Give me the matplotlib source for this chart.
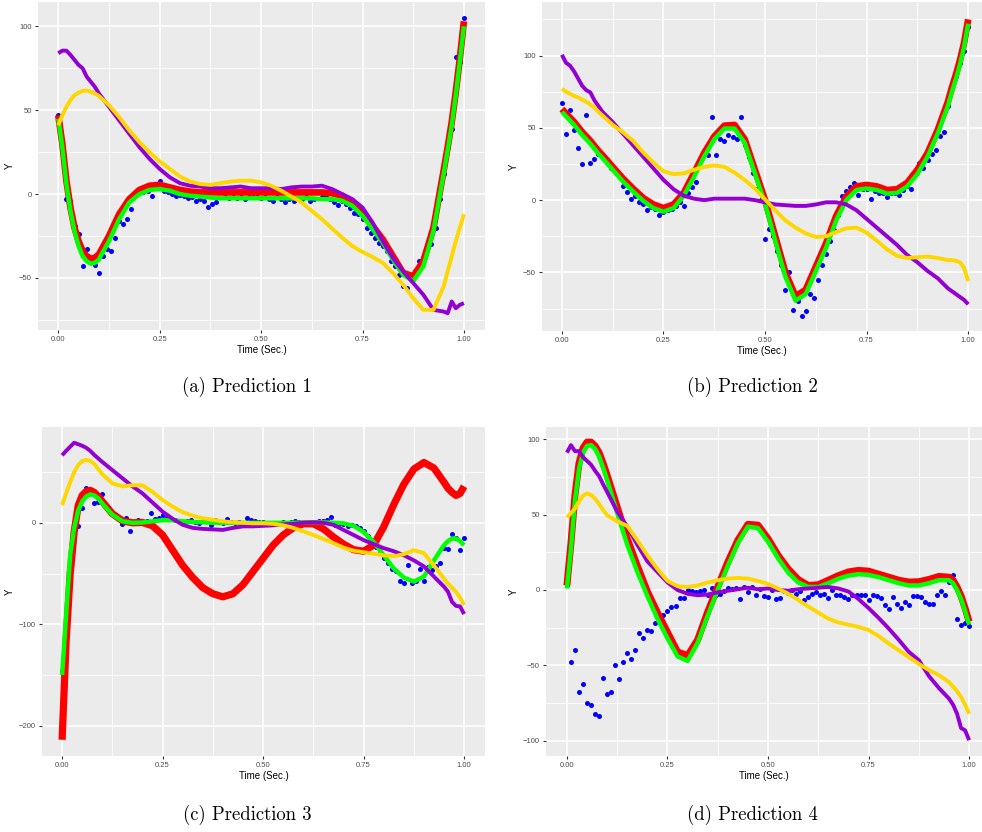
import numpy as np
import matplotlib
matplotlib.use("Agg")
import matplotlib.pyplot as plt
from matplotlib.ticker import FixedLocator

plt.rcParams['font.family'] = ['Liberation Sans', 'DejaVu Sans']

# time grid shared by the fitted curves (denser near the ends)
T = [0, .01, .02, .03, .04, .05, .06, .07, .08, .09,
     .1, .125, .15, .175, .2, .225, .25, .275, .3, .325,
     .35, .375, .4, .425, .45, .475, .5, .525, .55, .575,
     .6, .625, .65, .675, .7, .725, .75, .775, .8, .825,
     .85, .875, .9, .925, .95, .96, .97, .98, .99, 1.0]
# observations are sampled every 0.01 s
T_OBS = np.arange(101) / 100

# ---- prediction 1
a_obs = [47, 28, -3, -4, -19, -24, -43, -33, -40, -42,
         -47, -37, -33, -34, -26, -16, -18, -15, -9, 0.5,
         1.5, 1, 2, -1, 5, 8, 2, 1, 0, -1,
         -0.5, -1, -2.5, -2, -4, -3, -4, -7.5, -6, -4.5,
         3, -2, -2.5, -2, -2.5, -2, -3, -2, -2, -2,
         -2.5, -2, -3, -4, -2, -3, -5, -3, -4, -3,
         -3, -2, -4, -3, 1, -2, -2, -3, -5, -6.5,
         -4, -6, -8, -11, -12, -15, -20, -23, -26, -29,
         -31, -34, -40, -43, -48, -55, -56, -50, -46, -40,
         -38, -33, -30, -20.5, -3, 12, 28, 39, 82, 79,
         105]
a_red = [47, 30, 8, -8, -20, -28, -34, -37, -38.5, -38,
         -36, -25, -12, -3, 2.5, 5, 5.5, 4, 2.5, 1.5,
         1, 1, 1, 1, 1, 1, 1, 1, 1, 1,
         1, 1, 1, 0.5, -1, -5, -11, -19, -27, -37,
         -47, -49, -40, -20, 14, 28, 43, 61, 81, 103]
a_green = [45, 28, 6, -10, -22, -31, -37, -40, -41.5, -41,
           -39, -28, -15, -5, 0, 2.5, 3, 2, 0, -1,
           -1.5, -2, -2.5, -2.5, -2.5, -2.5, -2.5, -2.5, -2.5, -2.5,
           -2.5, -2.5, -3, -3, -4, -7, -13, -21, -29, -39,
           -48, -52, -43, -22, 12, 26, 41, 59, 79, 100]
a_purple = [84, 85.5, 85.5, 83, 80, 77, 75, 70, 67, 64,
            60, 52, 44, 36, 28, 21, 15, 10, 6.5, 5,
            4.5, 3.5, 3.5, 4, 4.5, 3.5, 3.5, 3.5, 3, 4,
            4.5, 4.5, 5, 3, 0, -3, -8, -17, -28, -38,
            -46, -53, -60, -69, -70, -71, -64, -68, -66, -65]
a_gold = [41, 47, 52, 56, 59, 60.5, 61.5, 61.7, 61, 60,
          58.5, 53, 46, 38, 31, 25, 19.5, 15, 10.5, 7.5,
          6, 5.5, 6.5, 7.5, 8, 8, 7, 5, 2, -1.5,
          -5, -10, -15, -20.5, -26, -31, -34.5, -37.5, -41, -47,
          -54, -62, -69, -69, -55, -46, -37, -28, -20, -12]

# ---- prediction 2
b_obs = [67, 46, 62.6, 48.7, 36, 25, 58.7, 26, 28.4, 32,
         29, 27, 22, 20, 17, 10, 5.5, 0.7, 3, -1,
         -3, -7, -5, -6, -10, -8, -7, -6, -4, -1,
         -4, 5, 9, 12.5, 28, 34, 31.4, 57.5, 31.4, 42.5,
         41, 45, 43.6, 42, 57.5, 38, 30, 18.7, 8, 0,
         -27, -20, -25, -35, -45, -62, -50, -76, -70, -80,
         -77, -65, -68, -55, -45, -37, -28, -20.5, -10, 3,
         6, 9, 12, 3.2, 8, 8, 1, 6, 5, 5,
         2.5, 5, 5, 3.5, 7, 10, 7.6, 18, 26, 22,
         28, 32, 35, 44, 47, 65, 80, 86, 95, 103,
         120]
b_red = [63, 60, 57, 54, 50.5, 47, 44, 41, 37.5, 34,
         31, 23, 15, 8, 1.5, -3, -5.5, -3, 5, 18.5,
         32.5, 44, 51.5, 52, 42, 21, 0, -25, -50, -66.5,
         -62, -46, -30, -11, 2.5, 9.5, 10.5, 9.5, 7, 7.5,
         12, 21, 32.5, 48.5, 68, 78, 87, 97, 109, 125]
b_green = [61, 58, 55, 52, 48.5, 45, 42, 39, 35.5, 32,
           29, 21, 13, 6, -0.5, -5.5, -8, -5.5, 3, 16,
           30, 42, 49.5, 49.5, 39.5, 18.5, -2.5, -28, -53, -69.5,
           -65, -49, -33, -14, 0, 7, 8, 7, 4.5, 5,
           9.5, 18, 30, 46, 65, 75, 84, 94, 106, 122]
b_purple = [100.5, 95, 93, 89, 84, 79, 76, 74.5, 69, 65,
            61, 54, 46, 38, 30, 22, 14, 7.5, 3, 1,
            0, 1, 1, 1, 1, 0, -1.5, -3, -3.5, -4,
            -4, -3, -1.5, -1.5, -3, -7, -13, -19, -25, -31,
            -38, -43, -49, -54, -61, -63, -65, -67, -69, -72]
b_gold = [77, 75, 73.5, 72, 71, 69.5, 68, 66, 64, 61,
          58.5, 52, 47, 41, 33, 26, 20, 18, 18.5, 21,
          23, 24, 23, 19, 14, 8, 0.5, -7, -14, -19,
          -23, -25.5, -25, -22, -19.5, -19, -22.5, -28, -34, -38.5,
          -40, -39.5, -39, -40, -41.5, -41.5, -42, -43, -47, -56]

# ---- prediction 3
c_obs = [-146, -100, -49, -13, -3, 15, 34, 30, 20, 21,
         28, 17, 12, 9, 6, -1, 5, -8, 1, 3,
         1, 2, 10, 4, 5, 8, 5, 4, 3, 2,
         1, 2, 3, 1, 0, 2, 2, -2, 3, 1,
         0, 4, 1, 0, 1, -1, 5, 3, 2, 1,
         1, 0, -1, 0, 0, 1, 0, 1, 2, 1,
         0, 0, 1, 1, 2, 2, 3, 6, -2, -1,
         -1, -3, -2, -3, -5, -8, -13, -18, -24, -30,
         -35, -40, -46, -48, -57, -59, -42, -59, -57, -46,
         -57, -44, -47, -43, -40, -25, -26, -11, -15, -27,
         -15]
c_red = [-214, -117, -51, -9, 17, 27, 31, 32, 30, 26,
         21, 9, 2, 0, 0.3, -3, -12, -27, -42, -54,
         -64, -70, -73, -70, -61, -48, -35, -22, -12, -5,
         -1, -1, -6, -14, -21, -26.5, -28, -22, -4, 18,
         38, 53, 59.5, 54, 40, 34, 30, 27, 29, 36]
c_green = [-150, -91, -32, -5, 12, 21, 26, 28, 27, 24,
           19, 8, 1.5, 0, 0.3, 1.5, 2.6, 2.5, 1.5, 0.8,
           0.5, 0, 0, 0, 0, 0, 0, 0, 0, 0,
           0.3, 0.5, 0.5, 0, -0.5, -3, -9, -19, -32, -45,
           -54, -58, -53, -37, -22, -18, -15.5, -15.5, -18, -22]
c_purple = [66.6, 71, 75, 79, 77.5, 76, 74, 71, 67, 63.5,
            60, 52, 44, 36, 29, 20, 11, 4, -2, -5,
            -6, -6.5, -7, -5, -3.5, -3.5, -3, -2.5, -1.5, -1,
            0, 0.5, 0, -2, -7, -12, -17, -21, -25, -28,
            -32, -37, -43, -53, -63, -68, -78, -82, -82.5, -90]
c_gold = [17.4, 29, 40, 50, 57, 61, 62, 61, 58, 53,
          48, 39, 36, 37, 37, 30.5, 22.5, 16, 10.5, 7,
          4.5, 3, 1.5, 0.5, 0, -0.5, -0.5, -1, -2.5, -5,
          -8.5, -12, -16, -20, -24.5, -27.5, -29, -30.5, -32, -33,
          -31, -27, -30, -42, -55, -60, -64, -68, -74, -81]

# ---- prediction 4
d_obs = [3, -47.8, -40, -67.6, -62.6, -75, -76, -82, -83.5, -58.6,
         -69, -67.6, -50, -59, -47.6, -41.9, -46, -39.6, -28.4, -31.7,
         -26.7, -27.3, -22, -16.7, -16.3, -13.7, -11.5, -10.8, -5.5, -5,
         0, -1, -1.5, -1, 0.2, -3.5, 1.3, -3, -2.5, -0.5,
         1, 0.5, 1, -5.7, 2, -1.3, 2, -3, 0.5, -4.2,
         -4.6, -0.2, -5.7, -5.3, -1, -2, 0.2, -2.9, -1, -6.8,
         -4.6, -2.9, -1.3, -3.5, -2.4, -5, 0.2, -3.5, -3.5, -4.6,
         -5.7, -3.5, -3.5, -3.5, -3.5, -6.8, -3.5, -4.2, -5.3, -10,
         -12.8, -4.8, -9, -11.7, -7.9, -10, -4.2, -4, -4.6, -7.9,
         -9, -9, -3.5, -0.9, -3, 5, 10, -19.4, -23.3, -22,
         -24]
d_red = [3, 31, 63, 84, 94, 98, 98, 95.5, 91, 84,
         76, 55, 34, 16, -1, -15, -28, -41, -43.5, -33,
         -14.5, 2, 18.5, 33, 43.5, 43, 34, 23, 14, 7,
         3, 3.5, 6.5, 9.5, 12, 13, 12.5, 10.5, 8.5, 6.5,
         5.3, 5.5, 7, 9, 8.5, 6.5, 2, -4, -12, -21]
d_green = [1, 27, 59, 80, 91, 95.5, 96, 93.5, 88.5, 81,
           73, 51, 30, 12, -4, -19, -32, -44, -47, -35,
           -17, 0, 16, 31, 42, 41, 32, 21, 11.5, 5,
           2, 2, 4.5, 7.5, 9.5, 10.5, 10, 8.5, 6.5, 4.5,
           3, 3, 4.5, 6.5, 6.5, 4.5, 0, -6, -14, -23]
d_purple = [91, 96, 92, 92, 88, 85.5, 83, 79, 75.5, 70,
            65, 52, 42, 30, 19, 12, 5, 0, -2.5, -3.5,
            -3, -1.5, -0.5, 0.5, 1.5, 0.5, 1, 0, -0.5, 0.5,
            1, 1.5, 2, 1, -1, -6, -12, -18.5, -25.5, -33,
            -41, -46.5, -57, -65, -72, -76, -82, -91.5, -93, -99.5]
d_gold = [48, 51, 54, 58.5, 62.5, 64, 63, 60.5, 57, 53,
          49.5, 45.5, 42.5, 33, 23, 14, 6, 2.5, 2, 3,
          5, 6.5, 7.5, 8, 7.5, 6, 4, 1, -2.5, -6.5,
          -11, -15, -19, -21.5, -23, -24.5, -26.5, -30.5, -35.5, -40,
          -44.5, -49, -53, -56.5, -61, -64, -67, -71, -76, -82]

captions = ["(a) Prediction 1", "(b) Prediction 2", "(c) Prediction 3", "(d) Prediction 4"]
x_ticks = [0, 0.25, 0.5, 0.75, 1.0]
x_labels = ["0.00", "0.25", "0.50", "0.75", "1.00"]

W, H = 982, 832
fig = plt.figure(figsize=(W / 100, H / 100), dpi=100)


def box(l, r, t, b):
    return [l / W, 1 - b / H, (r - l) / W, (b - t) / H]


def panel(rect, xlim, ylim, yticks, yminor, obs, red, green, purple, gold, red_lw):
    ax = fig.add_axes(rect)
    ax.set_facecolor('#EBEBEB')
    for s in ax.spines.values():
        s.set_visible(False)
    ax.xaxis.set_major_locator(FixedLocator(x_ticks))
    ax.xaxis.set_minor_locator(FixedLocator([0.125, 0.375, 0.625, 0.875]))
    ax.set_xticklabels(x_labels)
    ax.yaxis.set_major_locator(FixedLocator(yticks))
    ax.yaxis.set_minor_locator(FixedLocator(yminor))
    ax.grid(which='major', color='white', lw=1.1)
    ax.grid(which='minor', color='white', lw=0.55)
    ax.set_axisbelow(True)
    ax.tick_params(which='major', length=2.5, width=0.8, color='#333333',
                   labelsize=5.5, labelcolor='#4D4D4D', pad=2)
    ax.tick_params(which='minor', length=0)

    ax.scatter(T_OBS, obs, s=13, color='#0000FF', lw=0, zorder=2)
    ax.plot(T, red, color='#FF0000', lw=red_lw, solid_capstyle='butt', zorder=3)
    ax.plot(T, green, color='#00FF00', lw=3.2, solid_capstyle='butt', zorder=4)
    ax.plot(T, purple, color='#9400D3', lw=2.8, solid_capstyle='butt', zorder=5)
    ax.plot(T, gold, color='#FFD700', lw=2.8, solid_capstyle='butt', zorder=6)

    ax.set_xlim(*xlim)
    ax.set_ylim(*ylim)
    ax.set_xlabel('Time (Sec.)', fontsize=7, labelpad=1.5)
    ax.set_ylabel('Y', fontsize=7, labelpad=3)
    return ax


panel(box(38, 485, 2, 330), (-0.05, 1.052), (-81, 114.5),
      [-50, 0, 50, 100], [-75, -25, 25, 75],
      a_obs, a_red, a_green, a_purple, a_gold, 4.8)
panel(box(542, 982, 2, 331), (-0.049, 1.034), (-90.5, 137),
      [-50, 0, 50, 100], [-75, -25, 25, 75, 125],
      b_obs, b_red, b_green, b_purple, b_gold, 4.8)
panel(box(42, 485, 427, 756), (-0.05, 1.052), (-230, 94.5),
      [-200, -100, 0], [-150, -50, 50],
      c_obs, c_red, c_green, c_purple, c_gold, 5.2)
panel(box(546, 982, 427, 756), (-0.052, 1.032), (-110, 108),
      [-100, -50, 0, 50, 100], [-75, -25, 25, 75],
      d_obs, d_red, d_green, d_purple, d_gold, 5.0)

# subfigure captions
for (cx, cy), txt in zip([(247, 387), (752, 387), (247, 815), (752, 815)], captions):
    fig.text(cx / W, 1 - cy / H, txt, family='cmr10', fontsize=13.5,
             ha='center', va='center')

fig.savefig('out.png', dpi=100)
